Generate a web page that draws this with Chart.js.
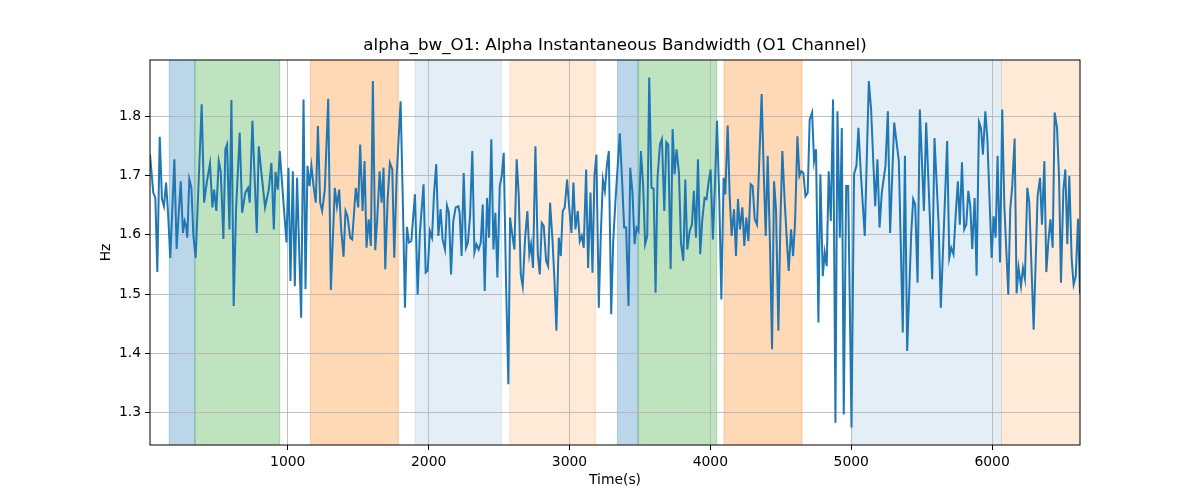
<!DOCTYPE html>
<html>
<head>
<meta charset="utf-8">
<script src="https://cdn.jsdelivr.net/npm/chart.js@4.4.1/dist/chart.umd.min.js"></script>
<style>
  body { margin: 0; background: #fff; }
  #wrap { width: 1200px; height: 500px; }
</style>
</head>
<body>
<div id="wrap"><canvas id="chart" width="1200" height="500"></canvas></div>
<script>
// samples (time in s, bandwidth in Hz)
const times = [
  22, 45, 60, 74, 91, 107, 121, 136, 150, 166, 195, 211, 240, 256, 268, 278, 287, 301, 316, 330,
  346, 389, 406, 425, 448, 465, 477, 493, 510, 524, 543, 557, 569, 586, 600, 616, 633, 659, 676, 699,
  718, 730, 749, 780, 794, 813, 839, 865, 884, 901, 913, 929, 943, 972, 991, 1005, 1019, 1036, 1050, 1066,
  1095, 1112, 1126, 1140, 1154, 1168, 1183, 1199, 1214, 1230, 1244, 1263, 1287, 1306, 1334, 1349, 1365, 1379, 1396, 1410,
  1424, 1443, 1457, 1483, 1500, 1514, 1531, 1545, 1559, 1574, 1590, 1604, 1621, 1635, 1652, 1666, 1680, 1692, 1709, 1725,
  1742, 1756, 1773, 1801, 1818, 1832, 1846, 1860, 1877, 1903, 1922, 1938, 1964, 1979, 1993, 2009, 2024, 2038, 2054, 2069,
  2085, 2099, 2116, 2130, 2144, 2159, 2175, 2192, 2211, 2220, 2234, 2249, 2265, 2279, 2294, 2310, 2325, 2339, 2355, 2370,
  2384, 2398, 2415, 2429, 2445, 2460, 2474, 2488, 2505, 2519, 2533, 2550, 2566, 2578, 2592, 2609, 2625, 2640, 2654, 2668,
  2685, 2701, 2715, 2727, 2741, 2758, 2775, 2789, 2803, 2817, 2834, 2848, 2862, 2879, 2893, 2907, 2924, 2938, 2952, 2966,
  2983, 2997, 3014, 3028, 3042, 3059, 3073, 3087, 3101, 3118, 3132, 3149, 3163, 3177, 3191, 3208, 3222, 3237, 3251, 3265,
  3279, 3296, 3310, 3327, 3357, 3374, 3388, 3402, 3419, 3431, 3447, 3462, 3476, 3490, 3507, 3523, 3537, 3552, 3566, 3582,
  3597, 3611, 3625, 3642, 3656, 3673, 3687, 3701, 3718, 3732, 3746, 3760, 3777, 3791, 3808, 3822, 3836, 3853, 3869, 3883,
  3898, 3912, 3928, 3943, 3959, 3973, 3988, 4002, 4018, 4033, 4047, 4064, 4078, 4094, 4106, 4123, 4137, 4151, 4168, 4182,
  4196, 4210, 4227, 4241, 4255, 4270, 4286, 4300, 4315, 4331, 4364, 4379, 4393, 4407, 4424, 4438, 4452, 4466, 4483, 4497,
  4511, 4528, 4542, 4556, 4573, 4587, 4601, 4618, 4632, 4646, 4660, 4675, 4691, 4705, 4722, 4736, 4750, 4767, 4781, 4798,
  4812, 4826, 4840, 4855, 4871, 4888, 4902, 4919, 4933, 4947, 4964, 4978, 5002, 5020, 5037, 5051, 5068, 5096, 5125, 5141,
  5170, 5186, 5201, 5217, 5243, 5260, 5276, 5305, 5338, 5366, 5381, 5397, 5426, 5440, 5454, 5471, 5487, 5516, 5532, 5575,
  5591, 5620, 5636, 5681, 5696, 5710, 5726, 5741, 5757, 5771, 5786, 5802, 5817, 5831, 5845, 5859, 5876, 5890, 5907, 5921,
  5935, 5952, 5966, 5997, 6011, 6025, 6039, 6056, 6072, 6087, 6115, 6129, 6143, 6160, 6174, 6188, 6205, 6219, 6233, 6250,
  6264, 6295, 6323, 6340, 6354, 6371, 6385, 6399, 6414, 6430, 6444, 6461, 6475, 6489, 6506, 6520, 6534, 6548, 6565, 6579,
  6594, 6610, 6624
];
const values = [
  1.735, 1.671, 1.662, 1.537, 1.765, 1.660, 1.648, 1.688, 1.637, 1.561, 1.727, 1.576, 1.690, 1.603, 1.623, 1.615, 1.595, 1.694, 1.679, 1.598,
  1.561, 1.820, 1.654, 1.688, 1.720, 1.646, 1.676, 1.640, 1.724, 1.707, 1.593, 1.744, 1.752, 1.609, 1.827, 1.480, 1.643, 1.772, 1.637, 1.671,
  1.679, 1.654, 1.792, 1.603, 1.749, 1.704, 1.646, 1.676, 1.721, 1.609, 1.706, 1.676, 1.741, 1.646, 1.587, 1.713, 1.522, 1.707, 1.513, 1.696,
  1.460, 1.828, 1.508, 1.716, 1.682, 1.716, 1.682, 1.654, 1.783, 1.654, 1.640, 1.676, 1.829, 1.507, 1.679, 1.648, 1.676, 1.609, 1.563, 1.640,
  1.631, 1.595, 1.592, 1.679, 1.646, 1.752, 1.640, 1.724, 1.578, 1.626, 1.581, 1.859, 1.574, 1.626, 1.707, 1.654, 1.713, 1.542, 1.660, 1.721,
  1.710, 1.561, 1.699, 1.825, 1.643, 1.477, 1.613, 1.587, 1.589, 1.668, 1.499, 1.603, 1.685, 1.536, 1.539, 1.606, 1.595, 1.668, 1.719, 1.598,
  1.643, 1.592, 1.575, 1.649, 1.637, 1.533, 1.623, 1.646, 1.648, 1.637, 1.564, 1.704, 1.578, 1.587, 1.631, 1.741, 1.570, 1.584, 1.575, 1.587,
  1.651, 1.505, 1.662, 1.595, 1.761, 1.575, 1.637, 1.528, 1.682, 1.699, 1.738, 1.513, 1.348, 1.629, 1.603, 1.575, 1.727, 1.665, 1.533, 1.513,
  1.595, 1.640, 1.567, 1.584, 1.544, 1.749, 1.567, 1.533, 1.620, 1.615, 1.556, 1.547, 1.654, 1.592, 1.525, 1.438, 1.595, 1.564, 1.640, 1.646,
  1.693, 1.648, 1.603, 1.688, 1.609, 1.640, 1.589, 1.598, 1.578, 1.710, 1.544, 1.671, 1.536, 1.699, 1.735, 1.477, 1.598, 1.693, 1.674, 1.716,
  1.741, 1.466, 1.587, 1.660, 1.771, 1.688, 1.612, 1.612, 1.480, 1.713, 1.671, 1.584, 1.612, 1.606, 1.741, 1.682, 1.584, 1.598, 1.865, 1.679,
  1.678, 1.502, 1.696, 1.752, 1.761, 1.640, 1.756, 1.752, 1.542, 1.778, 1.702, 1.744, 1.704, 1.587, 1.556, 1.693, 1.575, 1.606, 1.617, 1.674,
  1.595, 1.727, 1.567, 1.626, 1.662, 1.660, 1.690, 1.710, 1.592, 1.688, 1.792, 1.654, 1.491, 1.696, 1.668, 1.784, 1.665, 1.598, 1.643, 1.564,
  1.660, 1.609, 1.646, 1.581, 1.629, 1.589, 1.685, 1.682, 1.626, 1.617, 1.837, 1.704, 1.598, 1.733, 1.575, 1.407, 1.690, 1.643, 1.438, 1.620,
  1.741, 1.654, 1.595, 1.539, 1.609, 1.564, 1.620, 1.766, 1.699, 1.707, 1.704, 1.665, 1.671, 1.794, 1.806, 1.724, 1.744, 1.452, 1.702, 1.530,
  1.570, 1.547, 1.707, 1.623, 1.828, 1.283, 1.808, 1.595, 1.780, 1.297, 1.682, 1.682, 1.275, 1.702, 1.716, 1.780, 1.704, 1.598, 1.859, 1.811,
  1.648, 1.727, 1.612, 1.671, 1.716, 1.808, 1.603, 1.789, 1.724, 1.435, 1.733, 1.404, 1.603, 1.660, 1.651, 1.519, 1.811, 1.640, 1.789, 1.525,
  1.763, 1.620, 1.477, 1.758, 1.561, 1.578, 1.567, 1.631, 1.690, 1.617, 1.722, 1.609, 1.617, 1.674, 1.648, 1.576, 1.662, 1.531, 1.790, 1.780,
  1.735, 1.808, 1.763, 1.561, 1.631, 1.595, 1.733, 1.553, 1.811, 1.648, 1.499, 1.643, 1.682, 1.762, 1.501, 1.544, 1.513, 1.544, 1.526, 1.679,
  1.654, 1.440, 1.665, 1.696, 1.617, 1.724, 1.537, 1.587, 1.626, 1.578, 1.806, 1.780, 1.699, 1.519, 1.676, 1.710, 1.584, 1.699, 1.558, 1.516,
  1.530, 1.627, 1.501
];

// shaded intervals
const spanStarts = [159, 341, 1161, 1903, 2576, 3341, 3487, 4097, 5004, 6067];
const spanEnds   = [341, 943, 1785, 2517, 3185, 3487, 4045, 4651, 6067, 6700];
const spanKinds  = ['blue', 'green', 'orange', 'paleBlue', 'paleOrange', 'blue', 'green', 'orange', 'paleBlue', 'paleOrange'];

const xTicks = [1000, 2000, 3000, 4000, 5000, 6000];
const yTicks = [1.3, 1.4, 1.5, 1.6, 1.7, 1.8];

const spanColors = {
  blue: 'rgba(31,119,180,0.3)',
  green: 'rgba(44,160,44,0.3)',
  orange: 'rgba(255,127,14,0.3)',
  paleBlue: 'rgba(31,119,180,0.12)',
  paleOrange: 'rgba(255,127,14,0.16)'
};

// matplotlib-like 5% margin on y
const vMin = Math.min(...values), vMax = Math.max(...values);
const yPad = (vMax - vMin) * 0.05;

Chart.defaults.font.family = 'DejaVu Sans';
Chart.defaults.color = '#000';

const spansPlugin = {
  id: 'spans',
  beforeDraw(chart) {
    const { ctx, chartArea: a, scales: { x } } = chart;
    ctx.save();
    ctx.beginPath();
    ctx.rect(a.left, a.top, a.right - a.left, a.bottom - a.top);
    ctx.clip();
    spanStarts.forEach((s, i) => {
      const x0 = x.getPixelForValue(s);
      const x1 = x.getPixelForValue(spanEnds[i]);
      const c = spanColors[spanKinds[i]];
      ctx.fillStyle = c;
      ctx.fillRect(x0, a.top, x1 - x0, a.bottom - a.top);
      ctx.strokeStyle = c;
      ctx.lineWidth = 1;
      ctx.beginPath();
      ctx.moveTo(x0, a.top); ctx.lineTo(x0, a.bottom);
      ctx.moveTo(x1, a.top); ctx.lineTo(x1, a.bottom);
      ctx.stroke();
    });
    ctx.restore();
  }
};

const framePlugin = {
  id: 'frame',
  afterDatasetsDraw(chart) {
    const { ctx, chartArea: a } = chart;
    ctx.save();
    ctx.strokeStyle = '#000';
    ctx.lineWidth = 1;
    ctx.strokeRect(a.left, a.top, a.right - a.left, a.bottom - a.top);
    // title
    ctx.fillStyle = '#000';
    ctx.font = '16.7px "DejaVu Sans"';
    ctx.textAlign = 'center';
    ctx.textBaseline = 'middle';
    ctx.fillText('alpha_bw_O1: Alpha Instantaneous Bandwidth (O1 Channel)', (a.left + a.right) / 2, 46);
    ctx.restore();
  }
};

new Chart(document.getElementById('chart'), {
  type: 'line',
  data: {
    datasets: [{
      data: times.map((t, i) => ({ x: t, y: values[i] })),
      borderColor: '#1f77b4',
      borderWidth: 2,
      pointRadius: 0,
      tension: 0,
      fill: false
    }]
  },
  options: {
    responsive: false,
    animation: false,
    layout: { padding: { left: 90, top: 60, right: 120, bottom: 0 } },
    plugins: {
      legend: { display: false },
      tooltip: { enabled: false },
      title: { display: false }
    },
    scales: {
      x: {
        type: 'linear',
        min: times[0],
        max: times[times.length - 1],
        afterFit: s => { s.height = 55; },
        afterBuildTicks: s => { s.ticks = xTicks.map(v => ({ value: v })); },
        grid: { color: '#b0b0b0', lineWidth: 0.8, tickColor: '#000', tickLength: 5, tickWidth: 1 },
        border: { display: false },
        ticks: { autoSkip: false, maxRotation: 0, padding: 4, font: { size: 13.9 }, callback: v => String(v) },
        title: { display: true, text: 'Time(s)', font: { size: 13.9 }, padding: { top: 0, bottom: 11 } }
      },
      y: {
        min: vMin - yPad,
        max: vMax + yPad,
        afterFit: s => { s.width = 60; },
        afterBuildTicks: s => { s.ticks = yTicks.map(v => ({ value: v })); },
        grid: { color: '#b0b0b0', lineWidth: 0.8, tickColor: '#000', tickLength: 5, tickWidth: 1 },
        border: { display: false },
        ticks: { autoSkip: false, padding: 4, font: { size: 13.9 }, callback: v => v.toFixed(1) },
        title: { display: true, text: 'Hz', font: { size: 13.9 }, padding: { top: 8, bottom: 0 } }
      }
    }
  },
  plugins: [spansPlugin, framePlugin]
});
</script>
</body>
</html>
